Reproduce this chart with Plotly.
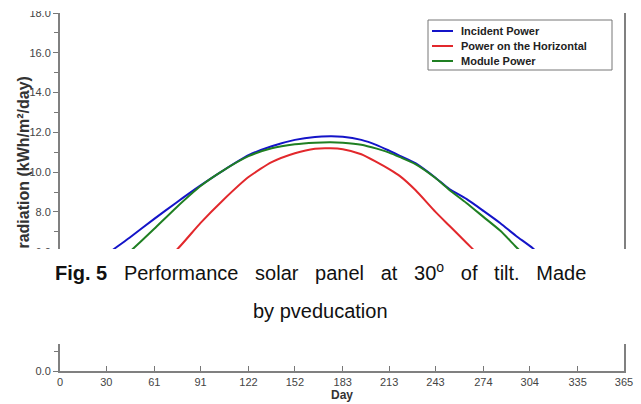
import plotly.graph_objects as go

days = [0, 15, 30, 45, 61, 75, 91, 105, 122, 137, 152, 165, 175, 183, 195, 205, 213,
        220, 230, 243, 252, 263, 274, 285, 295, 306, 320, 335, 350, 365]
incident = [3.6, 4.8, 5.85, 6.7, 7.65, 8.45, 9.33, 10.05, 10.85, 11.3, 11.62, 11.77, 11.8,
            11.78, 11.62, 11.36, 11.08, 10.82, 10.45, 9.72, 9.15, 8.65, 8.05, 7.43, 6.8, 6.17,
            5.2, 4.3, 3.7, 3.5]
horizontal = [2.2, 2.6, 3.4, 4.3, 5.2, 6.05, 7.45, 8.55, 9.75, 10.5, 10.95, 11.18, 11.2,
              11.15, 10.9, 10.5, 10.15, 9.8, 9.1, 8.0, 7.3, 6.45, 5.6, 4.8, 4.1, 3.4,
              2.8, 2.4, 2.2, 2.2]
module = [2.6, 3.7, 4.9, 5.98, 7.15, 8.2, 9.3, 10.05, 10.8, 11.2, 11.4, 11.48, 11.5,
          11.48, 11.38, 11.18, 10.98, 10.75, 10.4, 9.7, 9.1, 8.45, 7.75, 7.05, 6.25, 5.4,
          4.3, 3.4, 2.8, 2.6]
series_names = ["Incident Power", "Power on the Horizontal", "Module Power"]
series_colors = ["#1414c8", "#e2282c", "#1f7f22"]
x_ticks = [0, 30, 61, 91, 122, 152, 183, 213, 243, 274, 304, 335, 365]
caption_words = ["Performance", "solar", "panel", "at", "30<sup>o</sup>", "of", "tilt.", "Made"]

W, H = 641, 404
L, R, T, B = 60, 17, 13, 33
pw, ph = W - L - R, H - T - B

def px(xp):
    return (xp - L) / pw

def py(yp):
    return (H - B - yp) / ph

fig = go.Figure()
for name, vals, col in zip(series_names, [incident, horizontal, module], series_colors):
    fig.add_trace(go.Scatter(x=days, y=vals, mode="lines", name=name, showlegend=False,
                             line=dict(color=col, width=2, shape="spline", smoothing=0.6)))

font = "Arial, Liberation Sans, sans-serif"
fig.update_layout(
    width=W, height=H,
    margin=dict(l=L, r=R, t=T, b=B, autoexpand=False),
    plot_bgcolor="white", paper_bgcolor="white",
    font=dict(family=font, size=11, color="#444"),
    showlegend=False,
    xaxis=dict(range=[0, 365], tickvals=x_ticks, ticktext=[str(v) for v in x_ticks],
               ticks="inside", ticklen=5, tickcolor="#777", tickwidth=1,
               showline=True, linecolor="#808080", linewidth=2, mirror=False,
               showgrid=False, zeroline=False, automargin=False,
               tickfont=dict(size=11, color="#444"),
               title=dict(text="<b>Day</b>", standoff=2,
                          font=dict(size=12, color="#333"))),
    yaxis=dict(range=[0, 18], dtick=2, tickformat=".1f",
               ticks="outside", ticklen=5, tickcolor="#777", tickwidth=1,
               minor=dict(dtick=1, ticks="outside", ticklen=4, tickcolor="#777"),
               showline=True, linecolor="#808080", linewidth=2, mirror=True,
               showgrid=False, zeroline=False, automargin=False,
               tickfont=dict(size=11, color="#444")),
)

shapes = [dict(type="rect", xref="paper", yref="paper", x0=px(428), x1=px(612),
               y0=py(70), y1=py(20), line=dict(color="#777", width=1),
               fillcolor="white", layer="above")]
annotations = []
for i, (name, col) in enumerate(zip(series_names, series_colors)):
    yy = py(31 + 15 * i)
    shapes.append(dict(type="line", xref="paper", yref="paper", x0=px(432), x1=px(453),
                       y0=yy, y1=yy, line=dict(color=col, width=2), layer="above"))
    annotations.append(dict(text="<b>" + name + "</b>", xref="paper", yref="paper",
                            x=px(459), y=yy, xanchor="left", yanchor="middle",
                            showarrow=False, font=dict(family=font, size=11, color="#222")))

gap = "&nbsp;&nbsp; "
line1 = "<b>Fig. 5</b>" + gap + gap.join(caption_words)
annotations += [
    dict(text="<b>Solar radiation (kWh/m²/day)</b>", textangle=-90,
         xref="paper", yref="paper", x=px(23), y=py(185), xanchor="center", yanchor="middle",
         showarrow=False, font=dict(family=font, size=16, color="#333")),
    # white caption band
    dict(text=" ", xref="paper", yref="paper", x=px(W / 2), y=py(296.5),
         xanchor="center", yanchor="middle", width=W + 4, height=95,
         bgcolor="white", borderpad=0, borderwidth=0, showarrow=False),
    # white top band (cropped top of the figure)
    dict(text=" ", xref="paper", yref="paper", x=px(W / 2), y=py(5.5),
         xanchor="center", yanchor="middle", width=W + 4, height=11,
         bgcolor="white", borderpad=0, borderwidth=0, showarrow=False),
    dict(text=line1,
         xref="paper", yref="paper", x=px(320), y=py(271), xanchor="center", yanchor="middle",
         showarrow=False, font=dict(family=font, size=20, color="#111")),
    dict(text="by pveducation",
         xref="paper", yref="paper", x=px(320), y=py(311), xanchor="center", yanchor="middle",
         showarrow=False, font=dict(family=font, size=20, color="#111")),
]
fig.update_layout(annotations=annotations, shapes=shapes)

fig.write_html("out.html", config={"displayModeBar": False},
               post_script="document.body.style.margin='0';")
